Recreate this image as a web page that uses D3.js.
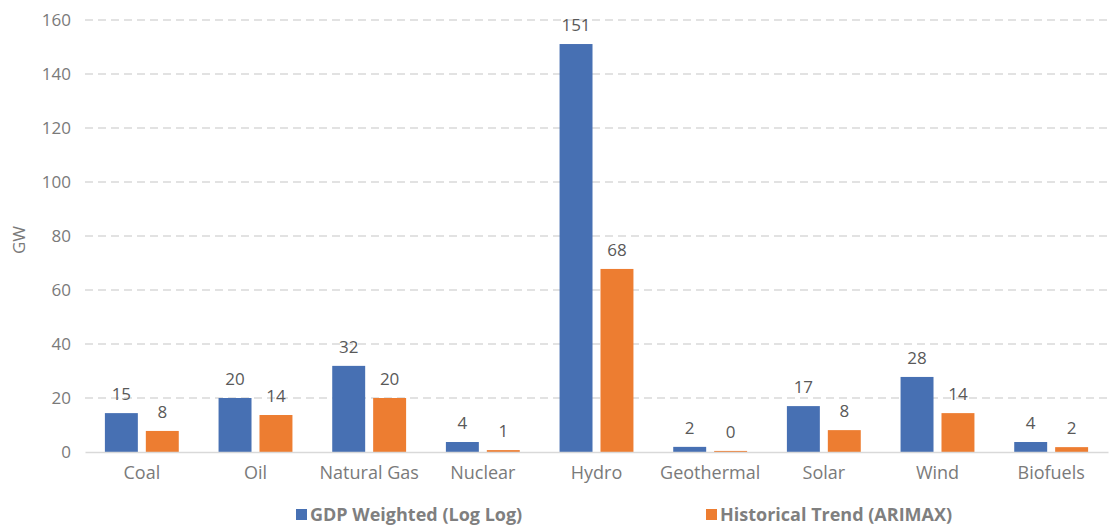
<!DOCTYPE html>
<html>
<head>
<meta charset="utf-8">
<script src="https://cdn.jsdelivr.net/npm/d3@7"></script>
<style>
  body { margin: 0; background: #fff; }
  text { font-family: "Open Sans", Lato, sans-serif; }
</style>
</head>
<body>
<script>
// chart values
var categories = ["Coal", "Oil", "Natural Gas", "Nuclear", "Hydro", "Geothermal", "Solar", "Wind", "Biofuels"];
var seriesNames = ["GDP Weighted (Log Log)", "Historical Trend (ARIMAX)"];
var gdpValues = [14.4, 20.0, 31.9, 3.7, 151.1, 1.9, 17.0, 27.8, 3.7];
var trendValues = [7.8, 13.7, 20.0, 0.7, 67.8, 0.4, 8.1, 14.4, 1.8];
var gdpLabels = ["15", "20", "32", "4", "151", "2", "17", "28", "4"];
var trendLabels = ["8", "14", "20", "1", "68", "0", "8", "14", "2"];
var yTicks = [0, 20, 40, 60, 80, 100, 120, 140, 160];

var width = 1115,
    height = 528;

var colors = ["#4770b3", "#ed7d31"];

var svg = d3.select("body").append("svg")
    .attr("width", width)
    .attr("height", height);

var y = d3.scaleLinear().domain([0, 160]).range([452, 20]);

var x0 = d3.scaleBand()
    .domain(categories)
    .range([85, 1108])
    .paddingInner(0.35)
    .paddingOuter(0.175);

var x1 = d3.scaleBand()
    .domain(seriesNames)
    .range([0, x0.bandwidth()])
    .paddingInner(0.195);

// grid
svg.append("g").selectAll("line")
    .data(yTicks.slice(1))
    .enter().append("line")
    .attr("x1", 85).attr("x2", 1108)
    .attr("y1", d => y(d)).attr("y2", d => y(d))
    .attr("stroke", "#d9d9d9")
    .attr("stroke-width", 1.3)
    .attr("stroke-dasharray", "8,5");

// y axis
var yAxis = svg.append("g")
    .attr("transform", "translate(85,0)")
    .call(d3.axisLeft(y).tickValues(yTicks).tickSize(0).tickPadding(14));
yAxis.select(".domain").remove();
yAxis.selectAll("text")
    .attr("fill", "#7a7a7a")
    .style("font-size", "17px");

svg.append("text")
    .attr("transform", "translate(25,240) rotate(-90)")
    .attr("text-anchor", "middle")
    .attr("fill", "#7a7a7a")
    .style("font-size", "17px")
    .text("GW");

var rows = categories.map((c, i) => ({
    cat: c,
    vals: [
        { s: seriesNames[0], v: gdpValues[i], lab: gdpLabels[i], k: 0 },
        { s: seriesNames[1], v: trendValues[i], lab: trendLabels[i], k: 1 }
    ]
}));

var groups = svg.append("g").selectAll("g")
    .data(rows)
    .enter().append("g")
    .attr("transform", d => "translate(" + x0(d.cat) + ",0)");

groups.selectAll("rect")
    .data(d => d.vals)
    .enter().append("rect")
    .attr("x", d => x1(d.s))
    .attr("width", x1.bandwidth())
    .attr("y", d => y(d.v))
    .attr("height", d => y(0) - y(d.v))
    .attr("fill", d => colors[d.k]);

groups.selectAll("text")
    .data(d => d.vals)
    .enter().append("text")
    .attr("x", d => x1(d.s) + x1.bandwidth() / 2)
    .attr("y", d => y(d.v) - 13)
    .attr("text-anchor", "middle")
    .attr("fill", "#595959")
    .style("font-size", "17px")
    .text(d => d.lab);

// x axis
var xAxis = svg.append("g")
    .attr("transform", "translate(0,452)")
    .call(d3.axisBottom(x0).tickSize(0).tickPadding(14));
xAxis.select(".domain")
    .attr("stroke", "#d9d9d9")
    .attr("stroke-width", 1.5);
xAxis.selectAll("text")
    .attr("fill", "#7a7a7a")
    .style("font-size", "18px");

// legend
var legendX = [296, 706];
var legend = svg.append("g").selectAll("g")
    .data(seriesNames)
    .enter().append("g")
    .attr("transform", (d, i) => "translate(" + legendX[i] + ",509)");

legend.append("rect")
    .attr("width", 11).attr("height", 11)
    .attr("fill", (d, i) => colors[i]);

legend.append("text")
    .attr("x", 14)
    .attr("y", 12)
    .attr("fill", "#7f7f7f")
    .style("font-size", "18px")
    .style("font-weight", "bold")
    .text(d => d);
</script>
</body>
</html>
